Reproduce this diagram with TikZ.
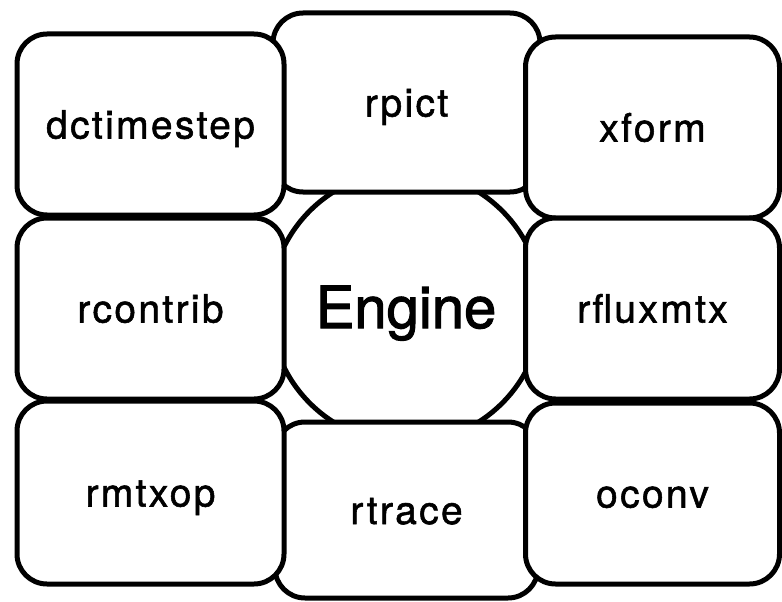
\documentclass[tikz,border=0pt]{standalone}
\usepackage{fontspec}
\setmainfont[FakeBold=1.8]{TeX Gyre Heros}
\newfontfamily\progfont[LetterSpace=6,FakeBold=1.4]{TeX Gyre Heros}
\tikzset{%
  prog/.style   = {shape=rectangle, rounded corners=30pt,%
                   draw, fill=white, line width=5pt,%
                   minimum width=267pt, minimum height=181pt, inner sep=0pt,%
                   text height=28pt, text depth=0pt,%
                   font=\progfont\fontsize{39}{42}\selectfont},%
  side/.style   = {prog, minimum width=254pt},%
  engine/.style = {shape=circle, draw, fill=white, line width=5pt,%
                   minimum size=272pt, inner sep=0pt,%
                   text height=42pt, text depth=0pt,%
                   font=\fontsize{58}{60}\selectfont}%
}
\begin{document}
\begin{tikzpicture}[x=1pt,y=-1pt]
	\useasboundingbox (0,0) rectangle (782,602);
	% engine in the middle, behind the tools
	\node [engine] (engine) at (406,307) {Engine};
	\node [prog, minimum height=179pt] (rpict) at (406.5,102.5) {rpict};
	\node [prog, minimum width=263pt, minimum height=176pt] (rtrace) at (406.5,510) {rtrace};
	% left column
	\node [prog] (dctimestep) at (150.5,124.5) {dctimestep};
	\node [prog] (rcontrib) at (150.5,308.5) {rcontrib};
	\node [prog, minimum height=183pt] (rmtxop) at (150.5,492.5) {rmtxop};
	% right column
	\node [side] (xform) at (652.5,127.5) {xform};
	\node [side] (rfluxmtx) at (652.5,308.5) {rfluxmtx};
	\node [side] (oconv) at (652.5,493.5) {oconv};
\end{tikzpicture}
\end{document}
